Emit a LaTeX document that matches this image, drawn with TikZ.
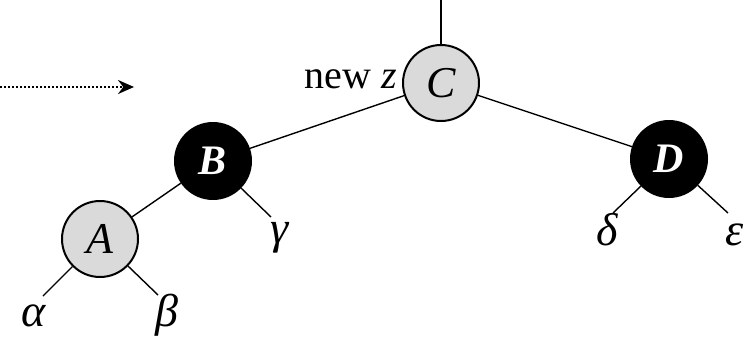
\documentclass[tikz,border=0pt]{standalone}
\usepackage{fontspec}
\setmainfont{Liberation Serif}
\usetikzlibrary{arrows.meta}
\definecolor{nodegray}{RGB}{218, 218, 218}

\begin{document}
\begin{tikzpicture}[
    x=0.5pt, y=-0.5pt,
    >=Stealth,
    edge/.style={line width=0.7pt, black},
    rbnode/.style={circle, draw=black, line width=1pt, minimum size=38pt, inner sep=0pt, font=\fontsize{22}{24}\selectfont\itshape},
    graynode/.style={rbnode, fill=nodegray},
    blacknode/.style={rbnode, fill=black, text=white, font=\fontsize{21}{24}\selectfont\bfseries\itshape},
    leaf/.style={anchor=base, inner sep=0pt, font=\fontsize{23}{26}\selectfont\itshape},
]
\useasboundingbox (0,0) rectangle (753,337);

% ===== 节点 =====
\node[graynode] (C) at (441,83) {C};
\node[blacknode] (B) at (213,161) {B};
\node[blacknode] (D) at (669,159) {D};
\node[graynode] (A) at (100,239) {A};

% new z 标签
\node[anchor=base east, inner sep=0pt, font=\fontsize{20}{24}\selectfont] (newz) at (397,88) {new \textit{z}};

% ===== 边 =====
\coordinate (top) at (441,0);
\draw[edge] (C) -- (top);
\draw[edge] (C) -- (B);
\draw[edge] (C) -- (D);
\draw[edge] (B) -- (A);

% ===== 子树 =====
\coordinate (aend) at (43,296);
\coordinate (bend) at (158,295);
\coordinate (gend) at (271,217);
\coordinate (dend) at (613,213);
\coordinate (eend) at (728,213);
\draw[edge] (A) -- (aend);
\draw[edge] (A) -- (bend);
\draw[edge] (B) -- (gend);
\draw[edge] (D) -- (dend);
\draw[edge] (D) -- (eend);

\node[leaf] (alpha) at (34,326) {α};
\node[leaf] (beta) at (167,326) {β};
\node[leaf] (gamma) at (280,243) {γ};
\node[leaf] (delta) at (607,245) {δ};
\node[leaf] (eps) at (735,245) {ε};

% ===== 虚线箭头 =====
\coordinate (arrstart) at (0,87);
\coordinate (arrend) at (134,87);
\draw[densely dotted, line width=1pt, -{Stealth[length=8pt, width=7pt]}] (arrstart) -- (arrend);

\end{tikzpicture}
\end{document}
